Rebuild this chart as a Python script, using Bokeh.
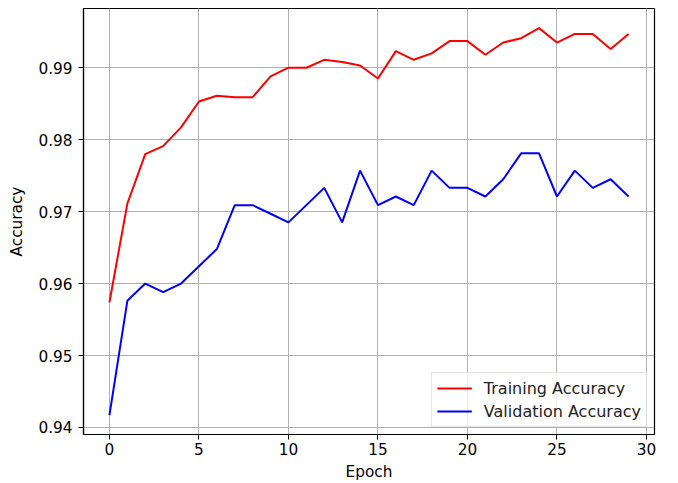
from bokeh.plotting import figure
from bokeh.models import Range1d, FixedTicker, Legend, LegendItem
from bokeh.embed import file_html
from bokeh.resources import INLINE

epochs = list(range(30))
train_acc = [0.9574, 0.9711, 0.9780, 0.9791, 0.9817, 0.9853, 0.9861, 0.9859, 0.9859, 0.9888,
             0.9900, 0.9900, 0.9911, 0.9908, 0.9903, 0.9885, 0.9923, 0.9911, 0.9920, 0.9937,
             0.9937, 0.9918, 0.9935, 0.9941, 0.9955, 0.9935, 0.9947, 0.9947, 0.9926, 0.9947]
val_acc = [0.9417, 0.9576, 0.9600, 0.9588, 0.9600, 0.9624, 0.9648, 0.9709, 0.9709, 0.9697,
           0.9685, 0.9709, 0.9733, 0.9685, 0.9757, 0.9709, 0.9721, 0.9709, 0.9757, 0.9733,
           0.9733, 0.9721, 0.9745, 0.9781, 0.9781, 0.9721, 0.9757, 0.9733, 0.9745, 0.9721]
x_ticks = [0, 5, 10, 15, 20, 25, 30]
y_ticks = [0.94, 0.95, 0.96, 0.97, 0.98, 0.99]

FONT = "DejaVu Sans"
FS = "15.3px"

p = figure(width=670, height=483, output_backend="svg", toolbar_location=None,
           x_range=Range1d(-1.45, 30.45), y_range=Range1d(0.93902, 0.99823),
           min_border_left=83, min_border_right=16, min_border_top=8, min_border_bottom=49)

p.background_fill_color = "white"
p.border_fill_color = "white"
p.outline_line_color = "black"
p.outline_line_width = 1.2

r1 = p.line(epochs, train_acc, line_color="red", line_width=2)
r2 = p.line(epochs, val_acc, line_color="blue", line_width=2)

for ax in (p.xaxis[0], p.yaxis[0]):
    ax.axis_line_color = "black"
    ax.axis_line_width = 1.2
    ax.major_tick_in = 0
    ax.major_tick_out = 5
    ax.major_tick_line_color = "black"
    ax.minor_tick_line_color = None
    ax.major_label_text_font = FONT
    ax.major_label_text_font_size = FS
    ax.major_label_text_color = "black"
    ax.axis_label_text_font = FONT
    ax.axis_label_text_font_size = FS
    ax.axis_label_text_font_style = "normal"
    ax.axis_label_text_color = "black"

p.xaxis.ticker = FixedTicker(ticks=x_ticks)
p.yaxis.ticker = FixedTicker(ticks=y_ticks)
p.xaxis.axis_label = "Epoch"
p.yaxis.axis_label = "Accuracy"
p.xaxis.major_label_standoff = 3
p.xaxis.axis_label_standoff = 5
p.yaxis.major_label_standoff = 6
p.yaxis.axis_label_standoff = 9

p.grid.grid_line_color = "#b0b0b0"
p.grid.grid_line_width = 1

legend = Legend(items=[LegendItem(label="Training Accuracy", renderers=[r1]),
                       LegendItem(label="Validation Accuracy", renderers=[r2])],
                location="bottom_right")
legend.margin = 7
legend.padding = 5
legend.spacing = 3
legend.glyph_width = 35
legend.glyph_height = 20
legend.label_height = 20
legend.label_standoff = 12
legend.label_text_font = FONT
legend.label_text_font_size = "16px"
legend.label_text_color = "#222222"
legend.border_line_color = "#cccccc"
legend.border_line_width = 1
legend.background_fill_color = "white"
legend.background_fill_alpha = 0.8
p.add_layout(legend)

open("out.html", "w").write(file_html(p, INLINE))
